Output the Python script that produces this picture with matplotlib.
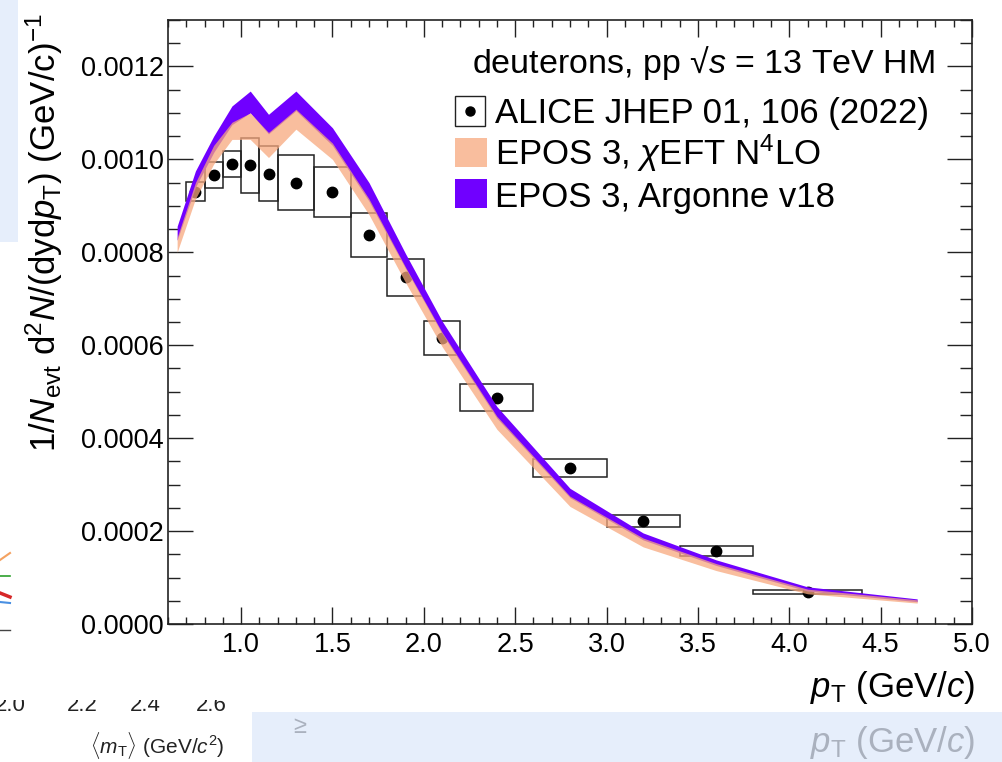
"""Deuteron pT spectrum, pp 13 TeV HM: ALICE data vs EPOS 3 coalescence bands."""

import matplotlib

matplotlib.use("Agg")
import matplotlib.pyplot as plt
import numpy as np
from matplotlib.lines import Line2D
from matplotlib.patches import Rectangle
from matplotlib.ticker import FormatStrFormatter, MultipleLocator
from matplotlib.transforms import Bbox, TransformedBbox

plt.rcParams["font.family"] = ["Liberation Sans", "DejaVu Sans"]
plt.rcParams["mathtext.fontset"] = "custom"
plt.rcParams["mathtext.rm"] = "Liberation Sans"
plt.rcParams["mathtext.it"] = "Liberation Sans:italic"
plt.rcParams["mathtext.bf"] = "Liberation Sans:bold"

# --- ALICE JHEP 01, 106 (2022) ---
alice_pt = [0.75, 0.85, 0.95, 1.05, 1.15, 1.3, 1.5, 1.7, 1.9, 2.1, 2.4, 2.8, 3.2, 3.6, 4.1]
alice_pt_lo = [0.7, 0.8, 0.9, 1.0, 1.1, 1.2, 1.4, 1.6, 1.8, 2.0, 2.2, 2.6, 3.0, 3.4, 3.8]
alice_pt_hi = [0.8, 0.9, 1.0, 1.1, 1.2, 1.4, 1.6, 1.8, 2.0, 2.2, 2.6, 3.0, 3.4, 3.8, 4.4]
alice_yield = [0.000930, 0.000966, 0.000991, 0.000987, 0.000969, 0.000950, 0.000930,
               0.000838, 0.000746, 0.000616, 0.000487, 0.000336, 0.000222, 0.000157,
               0.0000685]
alice_syst = [2.05e-5, 2.75e-5, 2.8e-5, 5.85e-5, 5.9e-5, 5.85e-5, 5.45e-5, 4.75e-5,
              4.05e-5, 3.6e-5, 2.85e-5, 2.0e-5, 1.3e-5, 1.0e-5, 0.5e-5]

# --- EPOS 3 bands ---
model_pt = [0.65, 0.75, 0.85, 0.95, 1.05, 1.15, 1.3, 1.5, 1.7, 1.9, 2.1, 2.4, 2.8, 3.2,
            3.6, 4.1, 4.7]
argonne_lo = [0.000826, 0.000940, 0.001015, 0.001075, 0.001100, 0.001055, 0.001105,
              0.001030, 0.000910, 0.000765, 0.000625, 0.000443, 0.000272, 0.000181,
              0.000126, 0.0000710, 0.0000480]
argonne_hi = [0.000856, 0.000975, 0.001050, 0.001115, 0.001147, 0.001097, 0.001147,
              0.001068, 0.000950, 0.000797, 0.000652, 0.000468, 0.000292, 0.000196,
              0.000138, 0.0000800, 0.0000540]
chieft_lo = [0.000800, 0.000915, 0.000990, 0.001043, 0.001043, 0.001004, 0.001065,
             0.001000, 0.000881, 0.000735, 0.000597, 0.000419, 0.000253, 0.000166,
             0.000115, 0.0000650, 0.0000450]
chieft_hi = [0.000832, 0.000950, 0.001030, 0.001080, 0.001100, 0.001058, 0.001108,
             0.001035, 0.000915, 0.000768, 0.000628, 0.000447, 0.000275, 0.000185,
             0.000130, 0.0000750, 0.0000520]

PURPLE = "#7000ff"
PEACH = "#f7a87e"
W, H = 1003, 762


def fx(x):
    return x / W


def fy(y):
    return 1 - y / H


fig = plt.figure(figsize=(W / 100, H / 100), dpi=100)

# stray bits of neighbouring slides in the screenshot
fig.add_artist(Rectangle((0, fy(242)), fx(18), 242 / H, transform=fig.transFigure,
                         color="#e6eefb", lw=0, zorder=0))
fig.add_artist(Rectangle((fx(252), 0), 1 - fx(252), 50 / H, transform=fig.transFigure,
                         color="#e6eefb", lw=0, zorder=0))
fig.text(fx(975), fy(752), r"$p_{\mathrm{T}}$ (GeV/$c$)", ha="right", va="baseline",
         fontsize=25, color="#aab1be")
fig.text(fx(300), fy(733), "≥", ha="center", va="baseline", fontsize=17, color="#aab1be")
fig.text(fx(90), fy(753), r"$\langle m_{\mathrm{T}}\rangle$ (GeV/$c^{2}$)", ha="left",
         va="baseline", fontsize=15, color="#222222")
clip = TransformedBbox(Bbox.from_extents(0, 0, fx(252), fy(700)), fig.transFigure)
for lab, xc in zip(["2.0", "2.2", "2.4", "2.6"], [10, 82, 145, 211]):
    t = fig.text(fx(xc), fy(711), lab, ha="center", va="baseline", fontsize=16,
                 color="#222222")
    t.set_clip_box(clip)
    t.set_clip_on(True)
for (x0, y0, x1, y1), c, lw in zip(
    [(0, 560, 10, 553), (0, 576, 10, 576), (0, 593, 10, 597), (0, 602, 10, 603),
     (0, 630, 10, 630)],
    ["#f4a261", "#2ca02c", "#d62728", "#4a90e2", "#444444"],
    [1.5, 1.2, 2.5, 1.5, 1.0],
):
    fig.add_artist(Line2D([fx(x0), fx(x1)], [fy(y0), fy(y1)], color=c, lw=lw,
                          transform=fig.transFigure))

ax = fig.add_axes([fx(168), fy(624), (972 - 168) / W, (624 - 20) / H])

pt = np.array(alice_pt)
lo = np.array(alice_pt_lo)
hi = np.array(alice_pt_hi)
yv = np.array(alice_yield)
sy = np.array(alice_syst)

ax.bar(lo, 2 * sy, width=hi - lo, bottom=yv - sy, align="edge", fill=False,
       edgecolor="#222222", linewidth=1.1, zorder=1)
ax.plot(pt, yv, "o", color="black", ms=7.5, zorder=2)
ax.fill_between(model_pt, argonne_lo, argonne_hi, color=PURPLE, lw=0, zorder=3)
ax.fill_between(model_pt, chieft_lo, chieft_hi, color=PEACH, alpha=0.75, lw=0, zorder=4)

ax.set_xlim(0.6, 5.0)
ax.set_ylim(0, 0.0013)
ax.xaxis.set_major_locator(MultipleLocator(0.5))
ax.xaxis.set_minor_locator(MultipleLocator(0.1))
ax.yaxis.set_major_locator(MultipleLocator(0.0002))
ax.yaxis.set_minor_locator(MultipleLocator(0.00005))
ax.xaxis.set_major_formatter(FormatStrFormatter("%.1f"))
ax.yaxis.set_major_formatter(FormatStrFormatter("%.4f"))
ax.tick_params(which="both", direction="in", top=True, right=True, width=1.0,
               color="#222222", labelsize=19.5)
ax.tick_params(axis="x", which="major", length=12, pad=6)
ax.tick_params(axis="x", which="minor", length=5)
ax.tick_params(axis="y", which="major", length=18, pad=3)
ax.tick_params(axis="y", which="minor", length=8.5)
for s in ax.spines.values():
    s.set_linewidth(1.2)
    s.set_color("#222222")

fig.text(fx(975), fy(697), r"$p_{\mathrm{T}}$ (GeV/$c$)", ha="right", va="baseline",
         fontsize=25)
fig.text(fx(44), fy(452),
         r"1/$N_{\mathrm{evt}}$ d$^{2}$$N$/(dyd$p_{\mathrm{T}}$) (GeV/c)$^{-1}$",
         rotation=90, ha="center", va="bottom", fontsize=25)

# legend, drawn by hand in ROOT style
fig.text(fx(472), fy(73), "deuterons, pp \u221a$s$ = 13 TeV HM", ha="left",
         va="baseline", fontsize=24.5)
fig.add_artist(Rectangle((fx(455), fy(126)), 30 / W, 30 / H, transform=fig.transFigure,
                         facecolor="white", edgecolor="#222222", lw=1.0))
fig.add_artist(Line2D([fx(470)], [fy(111)], marker="o", color="black", ms=6.5,
                      transform=fig.transFigure))
fig.add_artist(Rectangle((fx(455), fy(167)), 32 / W, 29 / H, transform=fig.transFigure,
                         facecolor=PEACH, alpha=0.75, lw=0))
fig.add_artist(Rectangle((fx(455), fy(208)), 32 / W, 29 / H, transform=fig.transFigure,
                         facecolor=PURPLE, lw=0))
for lab, yb in zip(["ALICE JHEP 01, 106 (2022)", r"EPOS 3, $\chi$EFT N$^{4}$LO",
                    "EPOS 3, Argonne v18"], [123, 165, 207]):
    fig.text(fx(495), fy(yb), lab, ha="left", va="baseline", fontsize=25)

fig.savefig("out.png", dpi=100)
